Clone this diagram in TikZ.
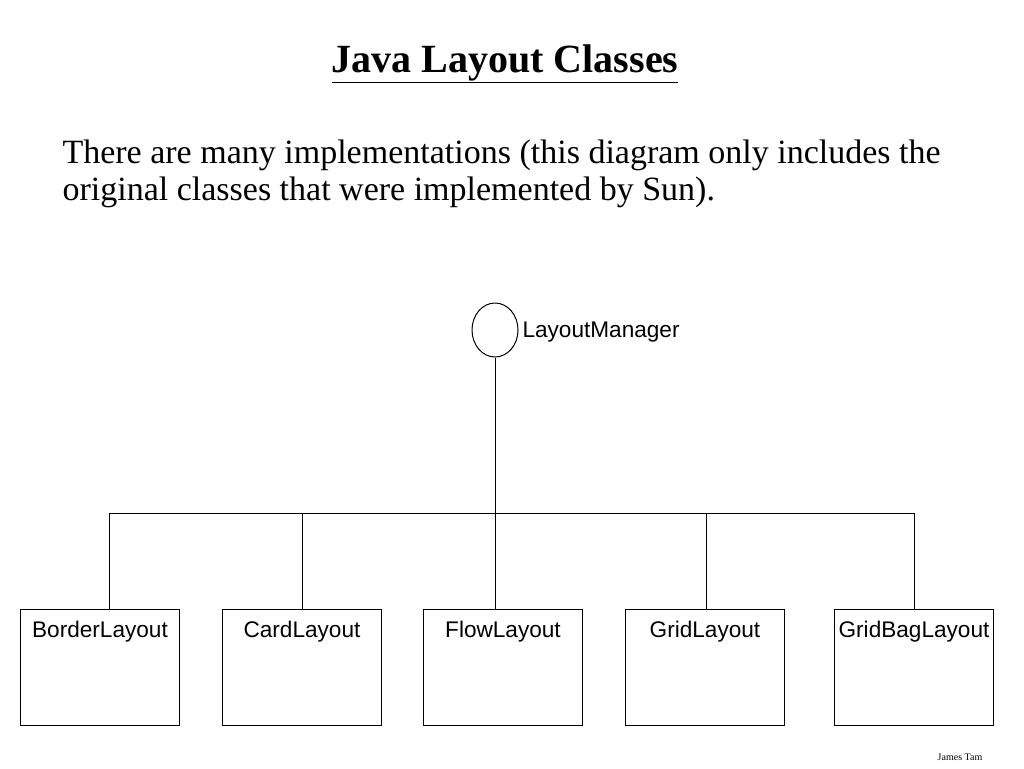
\documentclass[tikz,border=0pt]{standalone}
\usepackage{fontspec}
\usetikzlibrary{shapes.geometric}
\setmainfont{Liberation Serif}
\newfontfamily\arialf{Liberation Sans}
\begin{document}
\begin{tikzpicture}[x=1pt,y=-1pt,
  cls/.style={draw,line width=1pt,minimum width=159pt,minimum height=116pt,anchor=north west,inner sep=0pt},
  lbl/.style={font=\arialf\fontsize{22.6}{26}\selectfont},
  ln/.style={line width=1pt}]
\useasboundingbox (0,0) rectangle (1024,768);
\node (title) at (505,64) {\fontsize{40}{46}\selectfont\bfseries\underline{Java Layout Classes}};
\node[anchor=west,align=left,font=\fontsize{34}{37}\selectfont] (txt) at (59,174) {There are many implementations (this diagram only includes the\\original classes that were implemented by Sun).};
\node[draw,ln,ellipse,minimum width=46pt,minimum height=54pt,inner sep=0pt] (lm) at (495,330) {};
\node[lbl,anchor=west] (lml) at (519,332) {LayoutManager};
\foreach \n/\x/\t in {b/20/BorderLayout,c/222/CardLayout,f/423/FlowLayout,g/625/GridLayout,gb/834/GridBagLayout}{
  \node[cls] (\n) at (\x,609) {};
  \node[lbl] (\n l) at ([yshift=-23pt]\n.north) {\t};
}
\coordinate (j) at (495,513);
\coordinate (hl) at (109,513);
\coordinate (hr) at (914,513);
\draw[ln] (lm.south) -- (j);
\draw[ln] (hl) -- (hr);
\foreach \n/\x in {b/109,c/302,f/495,g/706,gb/914}{
  \draw[ln] (\x,513) -- (\x,609);
}
\node[font=\fontsize{10}{12}\selectfont] (jt) at (960,757) {James Tam};
\end{tikzpicture}
\end{document}
